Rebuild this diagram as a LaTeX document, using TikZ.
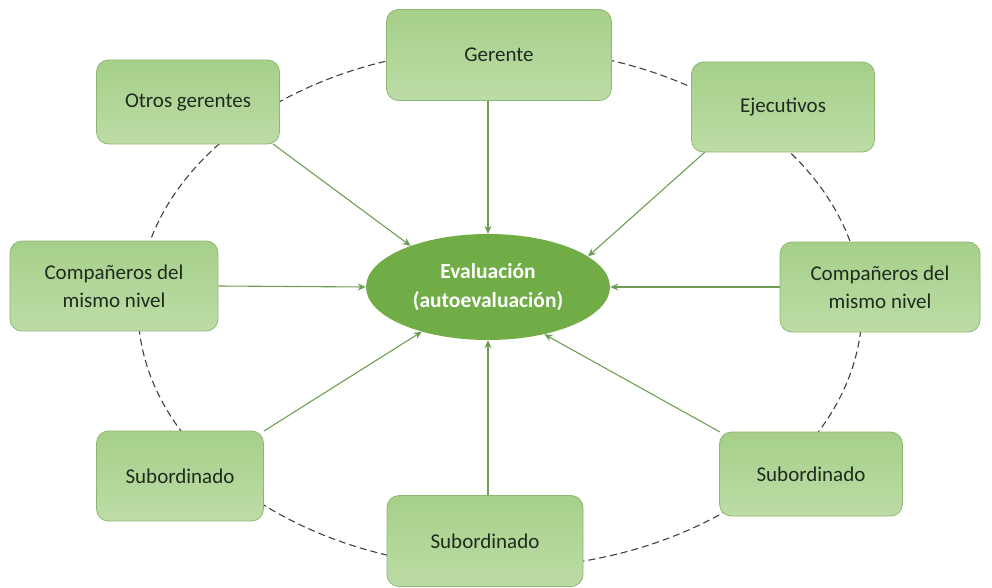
\documentclass[tikz,border=0pt]{standalone}
\usepackage{fontspec}
\setmainfont{Carlito}
\usetikzlibrary{shapes.geometric,arrows.meta}
\definecolor{boxtop}{HTML}{A6CF8A}
\definecolor{boxbot}{HTML}{BCDDA6}
\definecolor{boxline}{HTML}{8CB872}
\definecolor{ellfill}{HTML}{70AD47}
\definecolor{arrowc}{HTML}{6E9E52}
\definecolor{txt}{HTML}{1E2B1E}
\definecolor{dashc}{HTML}{404040}
\tikzset{
  gbox/.style={draw=boxline, line width=0.8pt, rounded corners=12pt, top color=boxtop, bottom color=boxbot,
    minimum width=#1, text=txt, align=center, font=\fontsize{21}{28}\selectfont},
  gbox/.default=183pt,
  hub/.style={ellipse, fill=ellfill, draw=none, minimum width=244pt, minimum height=106pt, inner sep=0pt, text=white,
    align=center, font=\fontsize{21.5}{29}\selectfont\bfseries},
  conn/.style={draw=arrowc, line width=1.1pt, -{Stealth[length=8pt,width=7pt]}},
  ring/.style={draw=dashc, line width=1.1pt, dash pattern=on 7pt off 4pt}
}
\begin{document}
\begin{tikzpicture}[x=1pt,y=-1pt]
\useasboundingbox (0,0) rectangle (992,588);
\draw[ring] (500,308) ellipse [x radius=362, y radius=260];
\node[hub] (c) at (488,287) {Evaluación\\(autoevaluación)};
\node[gbox=225pt, minimum height=91pt] (g) at (499,55) {Gerente};
\node[gbox=183pt, minimum height=84pt] (og) at (188,102) {Otros gerentes};
\node[gbox=183pt, minimum height=90pt] (ej) at (783,107) {Ejecutivos};
\node[gbox=208pt, minimum height=90pt] (cl) at (114,286) {Compañeros del\\mismo nivel};
\node[gbox=200pt, minimum height=90pt] (cr) at (880,287) {Compañeros del\\mismo nivel};
\node[gbox=167pt, minimum height=90pt] (sl) at (180,476) {Subordinado};
\node[gbox=196pt, minimum height=91pt] (sb) at (485,541) {Subordinado};
\node[gbox=183pt, minimum height=84pt] (sr) at (811,474) {Subordinado};
\coordinate (ogs) at (273,144);
\coordinate (ejs) at (705,152);
\coordinate (sls) at (264,431);
\coordinate (srs) at (720,432);
\path[conn] (ogs) -- (c.152);
\path[conn] (g.south -| c.north) -- (c.north);
\path[conn] (ejs) -- (c.17);
\path[conn] (cl.east) -- (c.west);
\path[conn] (cr.west) -- (c.east);
\path[conn] (sls) -- (c.-146);
\path[conn] (sb.north -| c.south) -- (c.south);
\path[conn] (srs) -- (c.-40);
\end{tikzpicture}
\end{document}
